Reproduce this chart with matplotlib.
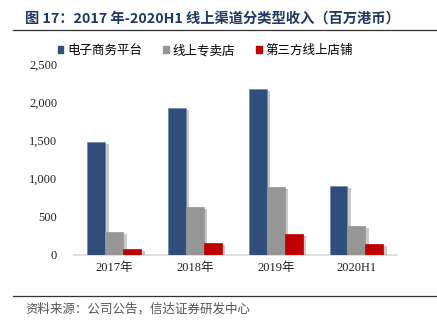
import matplotlib.pyplot as plt
import matplotlib.patheffects as pe
from matplotlib.patches import Patch
import numpy as np

plt.rcParams['font.family'] = ['Liberation Serif', 'Noto Sans CJK SC', 'DejaVu Sans']

categories = ['2017年', '2018年', '2019年', '2020H1']
ecommerce = [1480, 1930, 2170, 905]
online_store = [307, 632, 890, 381]
third_party = [75, 158, 272, 149]
series_names = ['电子商务平台', '线上专卖店', '第三方线上店铺']
colors = ['#2F4E7B', '#969696', '#C00000']
yticks = [0, 500, 1000, 1500, 2000, 2500]

fig = plt.figure(figsize=(4.37, 3.25), dpi=100)
ax = fig.add_axes([0.169, 0.2154, 0.739, 0.5877])

x = np.arange(len(categories))
w = 0.222
shadow = [pe.SimplePatchShadow(offset=(2.5, -1.5), shadow_rgbFace='#888888', alpha=0.45), pe.Normal()]
for i, (vals, c) in enumerate(zip([ecommerce, online_store, third_party], colors)):
    bars = ax.bar(x + (i - 1) * w, vals, width=w, color=c,
                  edgecolor='#6F88AD' if i == 0 else c, linewidth=0.5, zorder=3)
    for b in bars:
        b.set_path_effects(shadow)

ax.set_xlim(-0.5, 3.5)
ax.set_ylim(0, 2500)
ax.set_yticks(yticks)
ax.set_yticklabels([f'{v:,}' for v in yticks], fontsize=9)
ax.set_xticks(x)
ax.set_xticklabels(categories, fontsize=9)
ax.tick_params(axis='both', length=0, colors='#222222')
ax.tick_params(axis='y', pad=12)
ax.tick_params(axis='x', pad=5)
for s in ['left', 'right', 'top']:
    ax.spines[s].set_visible(False)
ax.spines['bottom'].set_color('#D9D9D9')
ax.spines['bottom'].set_linewidth(1.2)

handles = [Patch(facecolor=c, edgecolor=c) for c in colors]
ax.legend(handles, series_names, loc='lower left', bbox_to_anchor=(-0.05, 1.035), ncol=3,
          frameon=False, handlelength=0.45, handleheight=0.45, handletextpad=0.3,
          columnspacing=1.7, borderpad=0, borderaxespad=0,
          prop={'family': ['Noto Sans CJK SC'], 'size': 9})

fig.text(0.057, 0.944, '图 17：2017 年-2020H1 线上渠道分类型收入（百万港币）',
         fontsize=10.3, fontweight='bold', color='#1F3864', va='center',
         family=['Noto Sans CJK SC'])
fig.add_artist(plt.Line2D([0.03, 1.0], [0.908, 0.908], color='#333333', linewidth=0.9))
fig.add_artist(plt.Line2D([0.03, 1.0], [0.089, 0.089], color='#333333', linewidth=0.9))
fig.text(0.057, 0.05, '资料来源：公司公告，信达证券研发中心', fontsize=9, style='italic',
         color='#555555', va='center', family=['Noto Sans CJK SC'])

fig.savefig('out.png', dpi=100)
